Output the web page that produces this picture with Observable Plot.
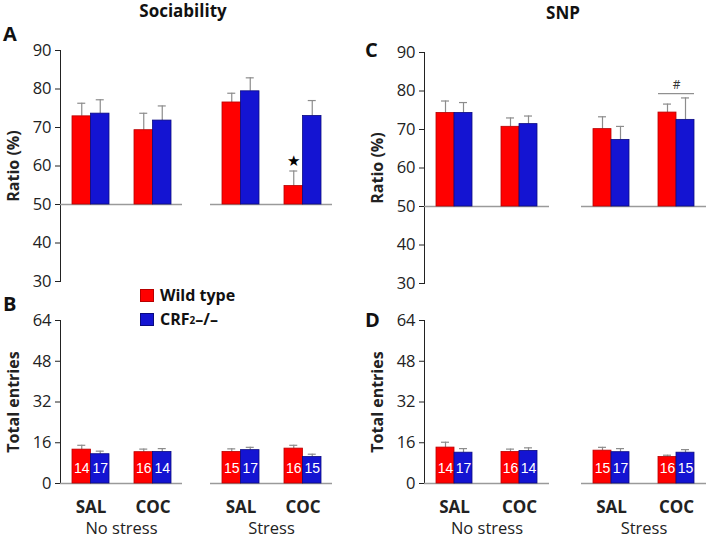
<!DOCTYPE html>
<html><head><meta charset="utf-8">
<script src="https://cdn.jsdelivr.net/npm/d3@7"></script>
<script src="https://cdn.jsdelivr.net/npm/@observablehq/plot@0.6"></script>
<style>
body{margin:0;background:#fff;}
#root{position:relative;width:709px;height:538px;overflow:hidden;font-family:"Open Sans",sans-serif;color:#111}
.abs{position:absolute;white-space:nowrap;line-height:1.2}
.title{font-weight:700;font-size:17px}
.letter{font-weight:700;font-size:20px}
.leg{font-weight:700;font-size:16px;display:flex;align-items:center}
.sw{display:inline-block;width:12px;height:11px;margin-right:6px}
svg [aria-label="y-axis label"]{font-weight:700;font-size:16px}
svg [aria-label="x-axis tick label"]{font-weight:700;font-size:17px}
svg [aria-label="fx-axis tick label"]{font-size:16.5px}
svg [aria-label="y-axis tick label"]{font-size:16.5px}
svg [aria-label="y-axis tick"]{stroke:#999}
</style></head><body><div id="root"></div>
<script>
// ---- data ----
const stressLevels = ["No stress", "Stress"];
const drugLevels = ["SAL", "COC"];
const condStress = ["No stress", "No stress", "Stress", "Stress"];
const condDrug = ["SAL", "COC", "SAL", "COC"];
const legendLabels = ["Wild type", "CRF2\u2013/\u2013"];

const sociabilityWT = [72.9, 69.3, 76.5, 54.8];
const sociabilityWTsem = [3.4, 4.4, 2.4, 3.9];
const sociabilityKO = [73.6, 71.8, 79.4, 73.0];
const sociabilityKOsem = [3.6, 3.8, 3.5, 4.0];

const snpWT = [74.3, 70.7, 70.1, 74.4];
const snpWTsem = [3.1, 2.3, 3.2, 2.2];
const snpKO = [74.3, 71.4, 67.3, 72.5];
const snpKOsem = [2.7, 2.1, 3.5, 5.7];

const entriesSocWT = [13.3, 12.3, 12.4, 13.7];
const entriesSocWTsem = [1.7, 1.2, 1.2, 1.3];
const entriesSocKO = [11.5, 12.4, 13.1, 10.4];
const entriesSocKOsem = [1.2, 1.3, 1.1, 1.1];

const entriesSnpWT = [14.1, 12.4, 12.9, 10.4];
const entriesSnpWTsem = [2.1, 1.1, 1.3, 0.7];
const entriesSnpKO = [12.1, 12.8, 12.3, 12.1];
const entriesSnpKOsem = [1.6, 1.2, 1.4, 1.2];

const nWT = [14, 16, 15, 16];
const nKO = [17, 14, 17, 15];

const ratioTicks = [30, 40, 50, 60, 70, 80, 90];
const entriesTicks = [0, 16, 32, 48, 64];

const starMarks = [{stress: "Stress", drug: "COC", geno: "WT"}];
const hashMarks = [{stress: "Stress", drug: "COC", y: 79.3, text: "#"}];

const RED = "#ff0000", RED_EDGE = "#b80000", BLUE = "#1414d2", BLUE_EDGE = "#0a0a80", ERR = "#8c8c8c";

function rows(wt, wtSem, ko, koSem) {
  return condStress.flatMap((s, i) => [
    {stress: s, drug: condDrug[i], geno: "WT", value: wt[i], sem: wtSem[i], n: nWT[i]},
    {stress: s, drug: condDrug[i], geno: "KO", value: ko[i], sem: koSem[i], n: nKO[i]}
  ]);
}

function build(cfg, bw) {
  const d = cfg.data;
  const wt = d.filter(r => r.geno === "WT"), ko = d.filter(r => r.geno === "KO");
  const q = bw / 4, cap = 4;
  const top = r => r.value + r.sem;
  const marks = [
    Plot.ruleY([cfg.base], {stroke: "#9a9a9a", strokeWidth: 1.3}),
    Plot.ruleX(wt, {fx: "stress", x: "drug", y1: "value", y2: top, dx: -q, stroke: ERR, strokeWidth: 1.2}),
    Plot.ruleX(ko, {fx: "stress", x: "drug", y1: "value", y2: top, dx: q, stroke: ERR, strokeWidth: 1.2}),
    Plot.tickY(wt, {fx: "stress", x: "drug", y: top, insetLeft: q - cap, insetRight: bw - q - cap, stroke: ERR, strokeWidth: 1.2}),
    Plot.tickY(ko, {fx: "stress", x: "drug", y: top, insetLeft: bw - q - cap, insetRight: q - cap, stroke: ERR, strokeWidth: 1.2}),
    Plot.barY(wt, {fx: "stress", x: "drug", y1: cfg.base, y2: "value", insetRight: bw / 2, fill: RED, stroke: RED_EDGE, strokeWidth: 0.8}),
    Plot.barY(ko, {fx: "stress", x: "drug", y1: cfg.base, y2: "value", insetLeft: bw / 2, fill: BLUE, stroke: BLUE_EDGE, strokeWidth: 0.8})
  ];
  if (cfg.showN) {
    marks.push(Plot.text(wt, {fx: "stress", x: "drug", text: "n", frameAnchor: "bottom", dx: -q, dy: -11, fill: "white", fontSize: 14, fontFamily: "Liberation Sans"}));
    marks.push(Plot.text(ko, {fx: "stress", x: "drug", text: "n", frameAnchor: "bottom", dx: q, dy: -11, fill: "white", fontSize: 14, fontFamily: "Liberation Sans"}));
  }
  if (cfg.star) {
    const sr = cfg.star.map(s => Object.assign({}, s, d.find(r => r.stress === s.stress && r.drug === s.drug && r.geno === s.geno)));
    marks.push(Plot.text(sr, {fx: "stress", x: "drug", y: top, dx: -q, dy: -10, text: () => "\u2605", fontSize: 15, fill: "#000"}));
  }
  if (cfg.hash) {
    marks.push(Plot.tickY(cfg.hash, {fx: "stress", x: "drug", y: "y", stroke: "#777", strokeWidth: 1}));
    marks.push(Plot.text(cfg.hash, {fx: "stress", x: "drug", y: "y", text: "text", dy: -9, fontSize: 12, fill: "#333"}));
  }
  return Plot.plot({
    width: cfg.width, height: cfg.height,
    marginLeft: cfg.marginLeft, marginRight: cfg.marginRight, marginTop: cfg.marginTop, marginBottom: cfg.marginBottom,
    style: {fontFamily: "Open Sans, sans-serif", fontSize: "15px", color: "#222", background: "transparent", overflow: "visible"},
    fx: {domain: stressLevels, paddingInner: cfg.fxPad, paddingOuter: 0, axis: cfg.xLabels ? "bottom" : null, label: null, tickSize: 0, tickPadding: 39},
    x: {domain: drugLevels, paddingInner: cfg.xPadIn, paddingOuter: cfg.xPadOut, axis: cfg.xLabels ? "bottom" : null, label: null, tickSize: 0, tickPadding: 17},
    y: {domain: cfg.yDomain, ticks: cfg.ticks, tickSize: 5, tickPadding: 4, line: true, label: cfg.yLabel, labelAnchor: "center", labelOffset: 53, labelArrow: false},
    marks
  });
}

function panel(cfg) {
  let p = build(cfg, 30);
  const bw = p.scale("x").bandwidth;
  p = build(cfg, bw);
  const div = document.createElement("div");
  div.className = "abs";
  div.style.left = cfg.left + "px";
  div.style.top = cfg.top + "px";
  div.appendChild(p);
  document.getElementById("root").appendChild(div);
}

const common = {marginLeft: 60, marginTop: 10};
panel({...common, data: rows(sociabilityWT, sociabilityWTsem, sociabilityKO, sociabilityKOsem), left: 0, top: 40, width: 337, height: 245, marginRight: 5, marginBottom: 4,
  base: 50, yDomain: [30, 90], ticks: ratioTicks, yLabel: "Ratio (%)", fxPad: 0.187, xPadIn: 0.41, xPadOut: 0.184, star: starMarks});
panel({...common, data: rows(entriesSocWT, entriesSocWTsem, entriesSocKO, entriesSocKOsem), left: 0, top: 310, width: 337, height: 228, marginRight: 5, marginBottom: 55,
  base: 0, yDomain: [0, 64], ticks: entriesTicks, yLabel: "Total entries", fxPad: 0.187, xPadIn: 0.41, xPadOut: 0.184, showN: true, xLabels: true});
panel({...common, data: rows(snpWT, snpWTsem, snpKO, snpKOsem), left: 364, top: 42, width: 345, height: 245, marginRight: 3, marginBottom: 4,
  base: 50, yDomain: [30, 90], ticks: ratioTicks, yLabel: "Ratio (%)", fxPad: 0.204, xPadIn: 0.44, xPadOut: 0.17, hash: hashMarks});
panel({...common, data: rows(entriesSnpWT, entriesSnpWTsem, entriesSnpKO, entriesSnpKOsem), left: 364, top: 310, width: 345, height: 228, marginRight: 3, marginBottom: 55,
  base: 0, yDomain: [0, 64], ticks: entriesTicks, yLabel: "Total entries", fxPad: 0.204, xPadIn: 0.44, xPadOut: 0.17, showN: true, xLabels: true});

// ---- titles, panel letters, legend (HTML) ----
const root = document.getElementById("root");
function addText(txt, cls, left, top, extra) {
  const el = document.createElement("div");
  el.className = "abs " + cls;
  el.style.left = left + "px"; el.style.top = top + "px";
  if (extra) Object.assign(el.style, extra);
  el.innerHTML = txt;
  root.appendChild(el);
  return el;
}
addText("Sociability", "title", 183, 1, {transform: "translateX(-50%)"});
addText("SNP", "title", 563, 3, {transform: "translateX(-50%)"});
addText("A", "letter", 3, 22);
addText("B", "letter", 3, 292);
addText("C", "letter", 365, 38);
addText("D", "letter", 365, 308);
const legColors = [[RED, RED_EDGE], [BLUE, BLUE_EDGE]];
legendLabels.forEach((lab, i) => {
  const html = `<span class="sw" style="background:${legColors[i][0]};border:1px solid ${legColors[i][1]}"></span>` +
    (i === 1 ? "CRF<sub style='font-size:10px;vertical-align:-4px;line-height:0'>2</sub>\u2013/\u2013" : lab);
  addText(html, "leg", 140, 286 + i * 24);
});
</script></body></html>
